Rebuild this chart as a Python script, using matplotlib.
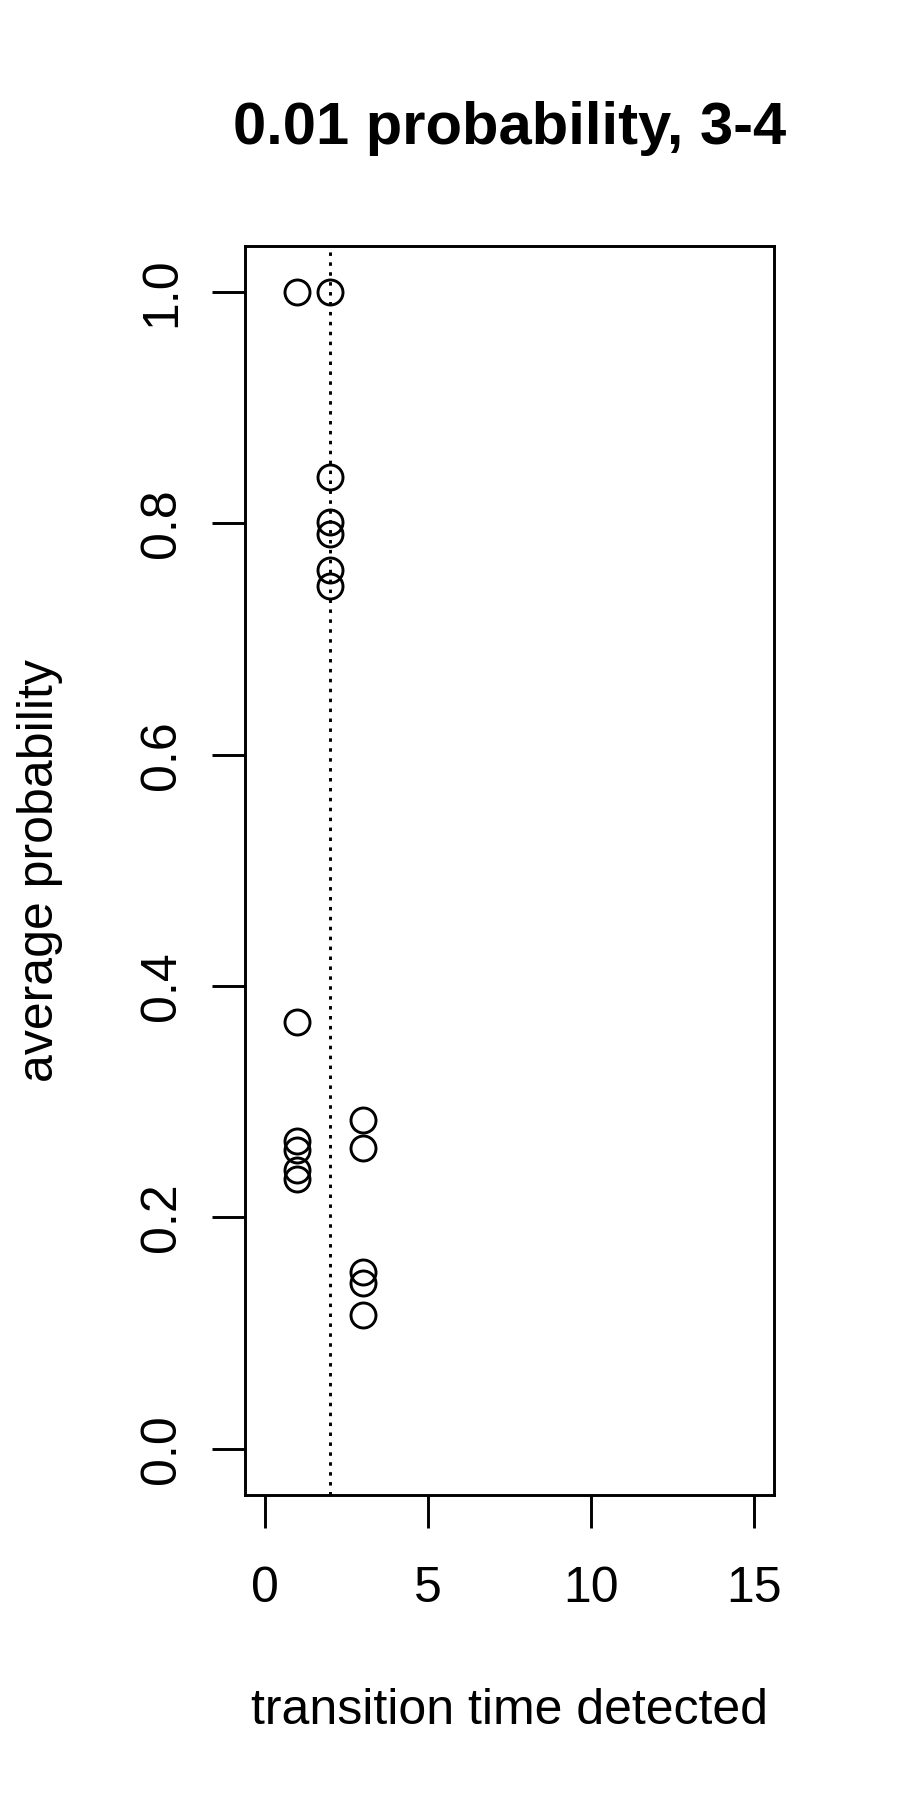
import matplotlib
matplotlib.use("Agg")
import matplotlib.pyplot as plt

plt.rcParams['font.family'] = ['Liberation Sans', 'DejaVu Sans']

# transition time detected vs average probability
x_vals = [1, 1, 1, 1, 1, 1,
          2, 2, 2, 2, 2, 2,
          3, 3, 3, 3, 3]
y_vals = [1.0, 0.369, 0.266, 0.258, 0.241, 0.233,
          1.0, 0.840, 0.801, 0.791, 0.760, 0.746,
          0.284, 0.260, 0.153, 0.143, 0.116]
cutoff = 2
x_ticks = [0, 5, 10, 15]
y_ticks = [0.0, 0.2, 0.4, 0.6, 0.8, 1.0]

fig = plt.figure(figsize=(9, 18), dpi=100)
ax = fig.add_axes([0.2724, 0.1694, 0.5873, 0.6941])

ax.plot(x_vals, y_vals, linestyle="none", marker="o", markersize=18,
        markerfacecolor="none", markeredgecolor="black", markeredgewidth=2.1)
ax.axvline(cutoff, color="black", linewidth=2.1, linestyle=(0, (1.2, 2.2)))

ax.set_xlim(-0.6, 15.6)
ax.set_ylim(-0.04, 1.04)
ax.set_xticks(x_ticks)
ax.set_xticklabels([str(t) for t in x_ticks])
ax.set_yticks(y_ticks)
ax.set_yticklabels([f"{t:.1f}" for t in y_ticks])
ax.tick_params(direction="out", length=24, width=2.1, labelsize=36, pad=22)
ax.tick_params(axis="x", pad=27)
ax.tick_params(axis="y", pad=19)
plt.setp(ax.get_yticklabels(), rotation=90, va="center")
for s in ax.spines.values():
    s.set_linewidth(2.1)

ax.set_xlabel("transition time detected", fontsize=36, va="center")
ax.xaxis.set_label_coords(0.5, -0.173)
ax.set_ylabel("average probability", fontsize=36, va="center")
ax.yaxis.set_label_coords(-0.388, 0.5)

ax.text(0.5, 1.094, "0.01 probability, 3-4", transform=ax.transAxes,
        ha="center", va="center", fontsize=43, fontweight="bold")

fig.savefig("out.png", dpi=100)
